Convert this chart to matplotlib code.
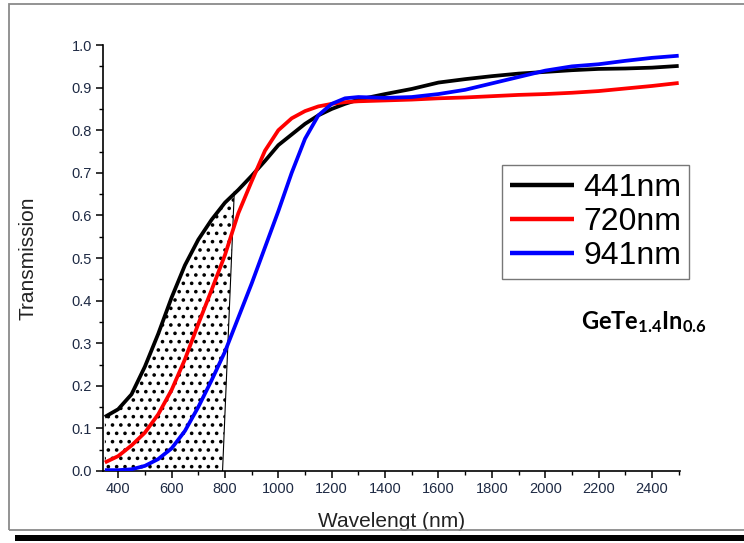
"""
Transmission spectra of GeTe1.4In0.6 films (441, 720 and 941 nm thick).
"""

import matplotlib

matplotlib.use("Agg")

import matplotlib.pyplot as plt
from matplotlib.patches import Polygon, Rectangle
from matplotlib.ticker import FormatStrFormatter, MultipleLocator

plt.rcParams["font.family"] = ["Liberation Sans", "DejaVu Sans"]
plt.rcParams["mathtext.default"] = "regular"
plt.rcParams["hatch.linewidth"] = 1.4

# wavelength grid (nm) shared by the three curves
wavelength = [
    350, 400, 450, 500, 550, 600, 650, 700, 750, 800, 850, 900, 950,
    1000, 1050, 1100, 1150, 1200, 1250, 1300, 1400, 1500, 1600, 1700,
    1800, 1900, 2000, 2100, 2200, 2300, 2400, 2500,
]

t_441 = [
    0.127, 0.145, 0.180, 0.245, 0.322, 0.407, 0.483, 0.543, 0.590, 0.630,
    0.660, 0.693, 0.728, 0.765, 0.790, 0.815, 0.835, 0.850, 0.862, 0.872,
    0.885, 0.897, 0.912, 0.920, 0.927, 0.933, 0.937, 0.941, 0.944, 0.945,
    0.947, 0.951,
]

t_720 = [
    0.020, 0.035, 0.060, 0.090, 0.133, 0.190, 0.262, 0.345, 0.425, 0.507,
    0.605, 0.680, 0.752, 0.800, 0.828, 0.845, 0.856, 0.862, 0.866, 0.868,
    0.870, 0.872, 0.875, 0.877, 0.880, 0.883, 0.885, 0.888, 0.892, 0.898,
    0.904, 0.911,
]

t_941 = [
    0.002, 0.002, 0.004, 0.012, 0.028, 0.053, 0.094, 0.150, 0.213, 0.280,
    0.360, 0.440, 0.525, 0.610, 0.700, 0.780, 0.835, 0.862, 0.875, 0.878,
    0.876, 0.878, 0.885, 0.895, 0.910, 0.925, 0.940, 0.950, 0.955, 0.963,
    0.970, 0.975,
]

labels = ["441nm", "720nm", "941nm"]
colors = ["black", "red", "blue"]

# dotted region under the 441 nm curve, closed by a slanted line
shade_top = (835, 0.655)
shade_bottom = (791, 0.0)


fig = plt.figure(figsize=(7.44, 5.43), dpi=100)

# picture frame with its drop shadow
fig.patches.append(Rectangle((0.0121, 0.0240), 1.2, 0.9686, transform=fig.transFigure,
                             fill=False, edgecolor="#8a8a8a", linewidth=1.3))
fig.patches.append(Rectangle((0.02, 0.0037), 1.0, 0.011, transform=fig.transFigure,
                             facecolor="black", edgecolor="none"))

ax = fig.add_axes([0.1384, 0.1326, 0.7756, 0.7844])

verts = [(x, y) for x, y in zip(wavelength, t_441) if x <= shade_top[0]]
verts += [shade_top, shade_bottom, (wavelength[0], 0.0)]
ax.add_patch(Polygon(verts, closed=True, facecolor="none", edgecolor="black",
                     linewidth=0, hatch="..", zorder=1))
ax.plot([shade_top[0], shade_bottom[0]], [shade_top[1], shade_bottom[1]],
        color="black", linewidth=0.8, zorder=1)

for series, label, color in zip([t_441, t_720, t_941], labels, colors):
    ax.plot(wavelength, series, color=color, linewidth=2.7, label=label,
            zorder=3, solid_capstyle="butt")

ax.set_xlim(343, 2505)
ax.set_ylim(0, 1.0)

ax.set_xticks(range(400, 2401, 200))
ax.set_xticks(range(500, 2501, 200), minor=True)
ax.yaxis.set_major_locator(MultipleLocator(0.1))
ax.yaxis.set_minor_locator(MultipleLocator(0.05))
ax.yaxis.set_major_formatter(FormatStrFormatter("%.1f"))

ax.tick_params(which="major", direction="out", length=5, width=1.1,
               labelsize=10.5, labelcolor="#1e2a44", pad=3)
ax.tick_params(which="minor", direction="out", length=3, width=1.0)

for side in ["top", "right"]:
    ax.spines[side].set_visible(False)
for side in ["left", "bottom"]:
    ax.spines[side].set_linewidth(1.2)

ax.set_xlabel("Wavelengt (nm)", fontsize=15, color="#222222")
ax.set_ylabel("Transmission", fontsize=15, color="#222222")
ax.xaxis.set_label_coords(0.5, -0.097)
ax.yaxis.set_label_coords(-0.114, 0.5)

legend = ax.legend(loc="upper left", bbox_to_anchor=(0.691, 0.718), fontsize=23,
                   frameon=True, fancybox=False, handlelength=2.0,
                   handletextpad=0.3, borderpad=0.25, labelspacing=0.12,
                   borderaxespad=0)
legend.get_frame().set_edgecolor("#555555")
legend.get_frame().set_linewidth(1.0)
for line in legend.get_lines():
    line.set_linewidth(3.2)

ax.text(0.937, 0.35, "GeTe$_{1.4}$In$_{0.6}$", transform=ax.transAxes,
        fontsize=17, fontweight="bold", family="Lato",
        ha="center", va="center")

fig.savefig("out.png", dpi=100)
plt.close(fig)
